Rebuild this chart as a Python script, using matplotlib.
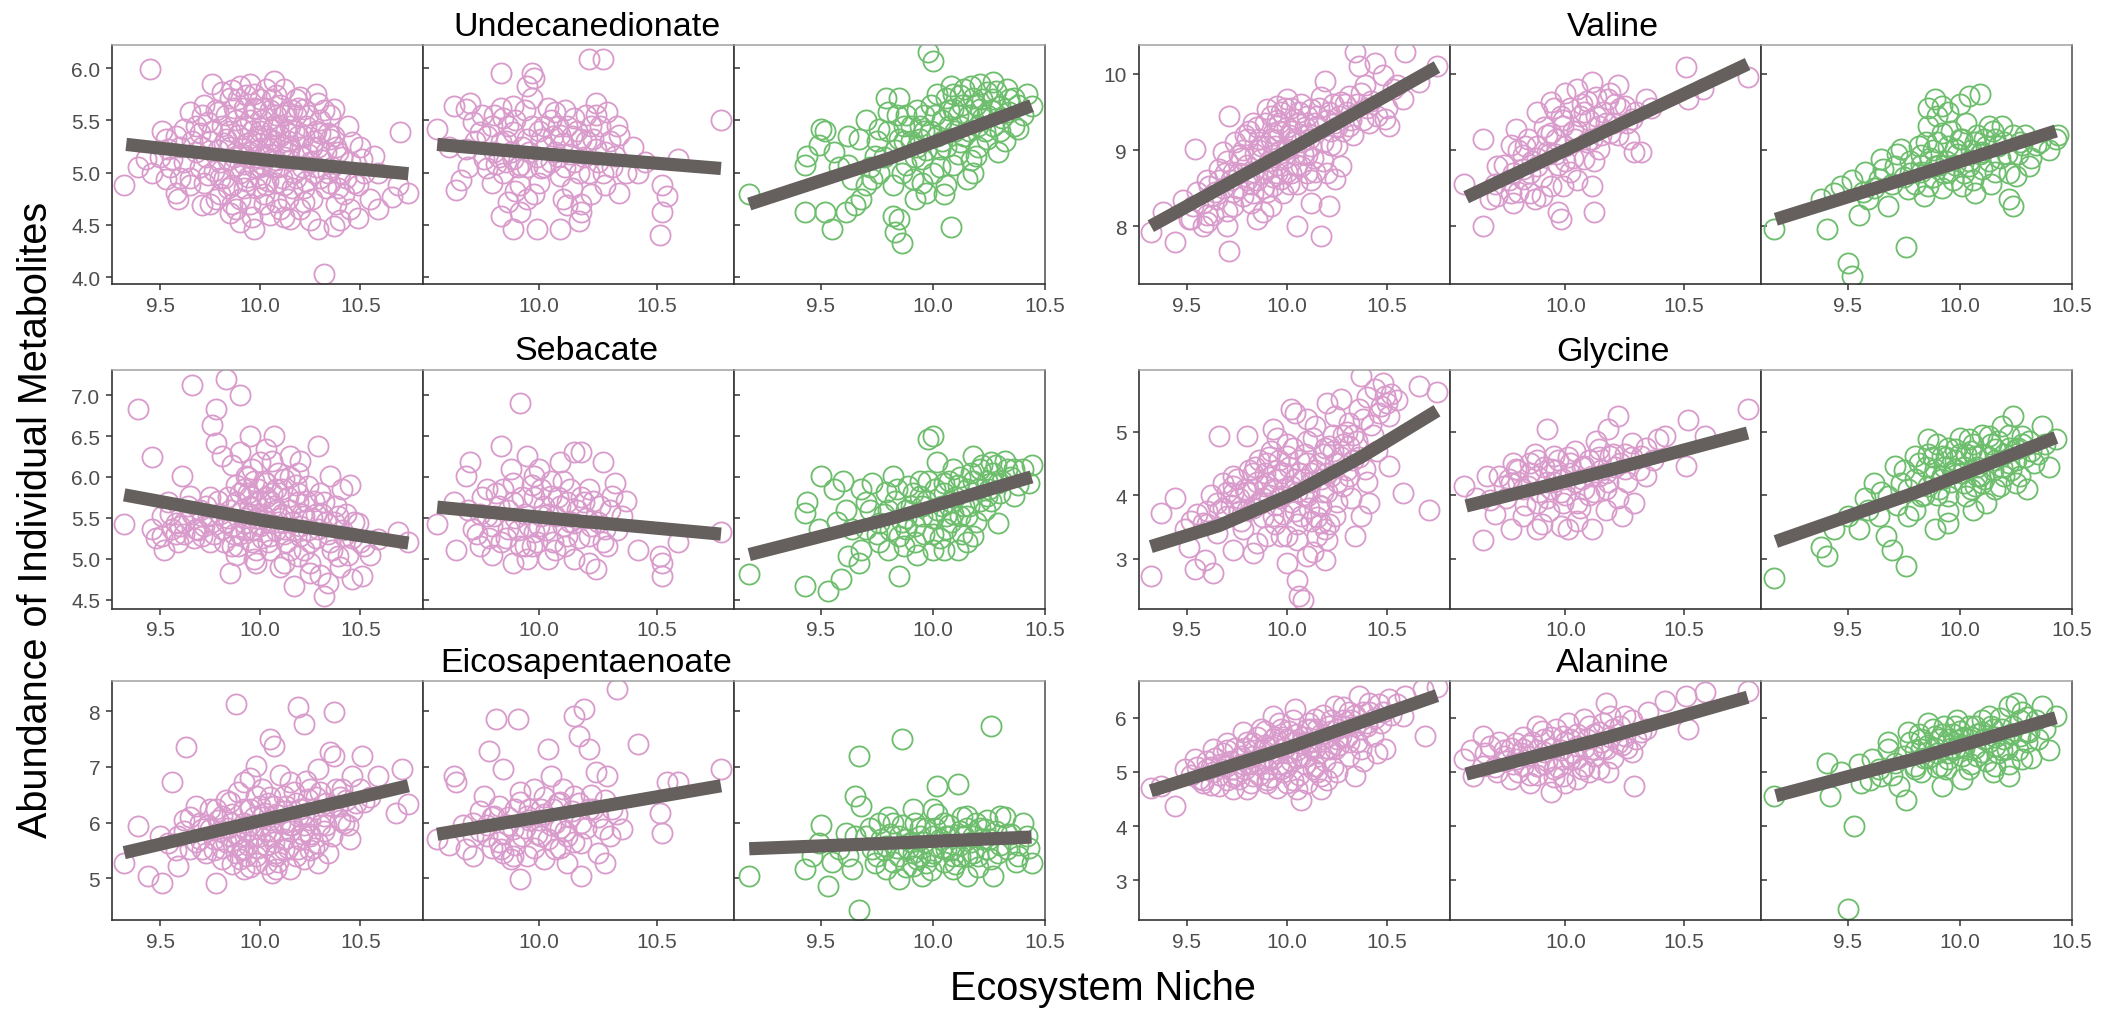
import matplotlib
matplotlib.use("Agg")
import matplotlib.pyplot as plt
import numpy as np

plt.rcParams['font.family'] = ['Liberation Sans', 'DejaVu Sans']

W, H, DPI = 2109, 1012, 100

PINK = '#D99BCB'
GREEN = '#6CBD6C'
FIT = '#655F5D'

metabolites = ['Undecanedionate', 'Valine', 'Sebacate', 'Glycine',
               'Eicosapentaenoate', 'Alanine']
panel_colors = [PINK, PINK, GREEN]

# x axis per panel column (shared by all metabolites)
x_ticks = [[9.5, 10.0, 10.5], [10.0, 10.5], [9.5, 10.0, 10.5]]
x_limits = [(9.259, 10.813), (9.51, 10.825), (9.112, 10.5)]

# y axis per metabolite
y_ticks = {
    'Undecanedionate': [4.0, 4.5, 5.0, 5.5, 6.0],
    'Valine': [8, 9, 10],
    'Sebacate': [4.5, 5.0, 5.5, 6.0, 6.5, 7.0],
    'Glycine': [3, 4, 5],
    'Eicosapentaenoate': [5, 6, 7, 8],
    'Alanine': [3, 4, 5, 6],
}
y_tick_fmt = {
    'Undecanedionate': '{:.1f}', 'Valine': '{:.0f}', 'Sebacate': '{:.1f}',
    'Glycine': '{:.0f}', 'Eicosapentaenoate': '{:.0f}', 'Alanine': '{:.0f}',
}
y_limits = {
    'Undecanedionate': (3.936, 6.22),
    'Valine': (7.24, 10.38),
    'Sebacate': (4.39, 7.314),
    'Glycine': (2.215, 5.98),
    'Eicosapentaenoate': (4.257, 8.545),
    'Alanine': (2.27, 6.685),
}

# ---------------- observations (niche, abundance) ----------------
und_1 = [(9.45,5.99),(9.32,4.88),(9.39,5.05),(9.46,5.00),(9.43,5.13),(9.51,5.40),(9.53,5.32),(9.54,5.23),
         (9.56,5.13),(9.53,4.94),(9.58,4.81),(9.59,4.75),(9.65,5.58),(9.68,5.45),(9.71,5.55),(9.76,5.85),
         (9.81,5.77),(9.86,5.79),(9.90,5.83),(9.85,5.71),(9.93,5.74),(10.07,5.88),(10.03,5.80),(10.08,5.74),
         (10.20,5.72),(10.29,5.67),(10.37,5.61),(10.44,5.45),(10.35,5.32),(10.39,5.20),(10.51,5.13),(10.52,5.00),
         (10.49,4.88),(10.59,4.65),(10.49,4.57),(10.37,4.49),(10.29,4.46),(10.32,4.03),(10.15,4.56),(9.97,4.46),
         (9.90,4.53),(9.85,4.61),(9.78,4.75),(9.71,4.69),(9.65,4.88),(10.70,5.39),(10.74,4.81),(10.66,4.77),
         (10.69,4.88),(10.59,5.00),(10.57,5.16),(10.46,5.29),(10.22,5.61),(10.12,5.55),(9.98,5.61),
         (9.75,5.30),(9.80,5.10),(9.82,4.95),(9.85,5.40),(9.88,5.20),(9.90,5.00),(9.92,4.85),(9.95,5.50),
         (9.96,5.30),(9.98,5.15),(10.00,4.95),(10.00,5.40),(10.02,4.80),(10.04,5.25),(10.05,5.60),(10.06,5.05),
         (10.08,4.90),(10.10,5.35),(10.12,5.15),(10.14,4.75),(10.15,5.45),(10.17,5.00),(10.20,5.25),(10.22,4.85),
         (10.25,5.10),(10.28,5.40),(10.30,4.95),(10.33,5.20),(9.70,5.05),(9.72,4.90),(9.78,5.60),(9.60,5.25),
         (9.62,5.10),(9.65,4.95),(9.68,5.20),(9.58,5.35),(10.40,5.00),(10.42,4.80),(10.45,5.10),(10.38,4.70),
         (9.88,4.65),(9.95,4.70),(10.05,4.60),(10.20,4.65),(10.25,4.55),(9.80,4.80),(9.75,4.70),(9.92,5.62),
         (10.00,5.70),(10.10,5.65),(10.15,5.25),(9.97,5.05),(10.03,5.15),(9.93,5.45),(10.07,5.45),(10.18,5.55),
         (10.27,5.30),(9.83,5.55),(9.87,5.05),(10.10,4.65),(10.30,5.50),(10.35,4.90),
         (9.62,5.42),(9.66,5.30),(9.70,5.38),(9.73,5.15),(9.74,5.48),(9.77,5.02),(9.79,5.22),(9.81,5.45),
         (9.83,5.32),(9.84,5.12),(9.86,4.88),(9.87,5.62),(9.89,5.36),(9.91,5.18),(9.92,5.08),(9.94,5.28),
         (9.94,4.96),(9.96,5.40),(9.97,5.62),(9.99,5.22),(10.01,5.08),(10.01,5.50),(10.03,5.35),(10.04,4.92),
         (10.05,5.18),(10.07,5.30),(10.08,5.55),(10.09,5.05),(10.11,5.25),(10.12,4.88),(10.13,5.40),(10.15,5.12),
         (10.16,5.60),(10.18,4.95),(10.19,5.35),(10.21,5.05),(10.23,5.45),(10.24,5.18),(10.26,4.75),(10.27,5.00),
         (10.29,5.25),(10.31,5.12),(10.33,4.85),(10.34,5.38),(10.36,5.05),(10.38,5.25),(10.41,5.15),(10.43,4.95),
         (10.47,4.90),(10.50,5.25),(10.55,4.75),(9.98,4.85),(9.90,4.75),(10.02,4.70),(10.12,4.58),(9.80,4.95),
         (9.85,5.25),(9.93,5.15),(10.00,5.28),(10.06,5.42),(10.14,5.30),(10.22,5.35),(9.72,5.65),(9.88,5.50),
         (10.18,5.70),(10.35,5.55),(9.60,4.95),(9.55,5.05),(9.50,5.15),(10.45,4.65),(10.40,4.55),(9.95,5.85),
         (10.12,5.80),(10.28,5.75),
         (9.71,5.25),(9.74,4.98),(9.76,5.40),(9.79,5.58),(9.82,5.28),(9.84,4.85),(9.87,5.15),(9.89,5.70),
         (9.91,5.42),(9.93,4.92),(9.95,5.20),(9.97,5.75),(9.99,5.35),(10.00,5.05),(10.02,5.62),(10.03,4.88),
         (10.05,5.32),(10.06,5.70),(10.08,5.12),(10.09,5.45),(10.11,4.95),(10.13,5.58),(10.14,5.20),(10.16,4.85),
         (10.17,5.40),(10.19,5.62),(10.21,5.15),(10.23,4.92),(10.24,5.55),(10.26,5.25),(10.28,5.05),(10.30,5.38),
         (10.32,5.60),(10.34,5.00),(10.37,5.35),(10.39,4.85),(9.96,4.58),(10.08,4.72),(9.86,4.70),(10.22,4.72)]
und_2 = [(9.57,5.42),(9.67,4.93),(9.65,4.83),(9.64,5.64),(9.69,5.61),(9.71,5.67),(9.72,5.48),(9.75,5.39),
         (9.69,5.23),(9.77,5.13),(9.84,5.95),(9.97,5.95),(9.98,5.90),(9.95,5.83),(9.97,5.71),(9.89,5.64),
         (9.85,5.52),(9.84,5.29),(9.89,5.13),(9.85,5.00),(9.92,4.88),(9.87,4.72),(9.84,4.59),(9.89,4.46),
         (9.99,4.46),(10.09,4.46),(10.17,4.54),(10.18,4.62),(10.12,4.69),(9.95,4.75),(10.21,6.09),(10.27,6.09),
         (10.24,5.67),(10.29,5.58),(10.34,5.36),(10.32,5.16),(10.37,5.00),(10.28,4.88),(10.34,4.81),(10.42,5.00),
         (10.59,5.13),(10.52,4.88),(10.54,4.78),(10.52,4.62),(10.51,4.40),(10.77,5.50),(10.07,5.58),(10.12,5.45),
         (10.18,5.32),(10.01,5.32),(10.07,5.20),(10.15,5.10),(10.24,5.23),(10.01,5.04),(10.09,4.97),(10.21,5.00),
         (10.27,5.00),(9.95,5.32),(9.89,5.39),(9.81,5.20),(9.78,5.04),(9.92,5.07),(10.02,5.45),(10.09,5.36),
         (10.15,5.52),(10.22,5.45),
         (9.73,5.30),(9.76,5.55),(9.80,5.45),(9.82,5.08),(9.86,5.30),(9.88,5.20),(9.90,5.50),(9.93,5.25),
         (9.95,5.05),(9.97,5.45),(9.99,5.15),(10.03,5.25),(10.04,5.62),(10.05,5.10),(10.08,5.45),(10.10,5.28),
         (10.11,5.05),(10.13,5.18),(10.16,5.40),(10.19,5.15),(10.20,5.55),(10.23,5.32),(10.25,5.10),(10.26,5.45),
         (10.30,5.30),(10.31,5.05),(10.33,5.45),(9.80,4.90),(9.90,4.82),(10.00,4.90),(10.14,4.85),(10.22,4.80),
         (9.70,5.05),(9.62,5.25),(10.40,5.25),(10.45,5.10),(10.06,5.35),(9.84,5.62),(10.18,4.70),(9.92,4.62),
         (9.78,5.35),(9.81,5.55),(9.83,5.15),(9.87,5.45),(9.91,5.05),(9.94,5.60),(9.96,5.20),(10.00,5.40),
         (10.02,5.05),(10.05,5.50),(10.08,5.15),(10.11,5.60),(10.14,5.35),(10.17,5.00),(10.20,5.30),(10.24,5.55),
         (10.28,5.20),(9.98,4.80),(10.10,4.75),(9.86,5.10)]
und_3 = [(9.18,4.80),(9.43,5.07),(9.44,5.16),(9.49,5.26),(9.52,5.40),(9.56,5.20),(9.50,5.42),(9.43,4.62),
         (9.52,4.62),(9.55,4.46),(9.61,4.62),(9.65,4.69),(9.64,4.94),(9.70,4.88),(9.62,5.07),(9.67,5.32),
         (9.74,5.16),(9.76,5.42),(9.80,5.58),(9.85,5.71),(9.79,5.71),(9.88,5.55),(9.82,4.59),(9.85,4.56),
         (9.86,4.33),(9.83,4.43),(9.98,6.15),(10.00,6.07),(10.08,4.48),(9.76,5.00),(9.82,4.88),(9.88,5.07),
         (9.91,4.94),(9.95,5.13),(10.00,5.00),(10.06,4.88),(9.94,5.32),(10.03,5.23),(10.09,5.07),(10.15,4.94),
         (9.94,5.45),(10.01,5.55),(10.06,5.71),(10.09,5.61),(10.12,5.45),(10.18,5.71),(10.21,5.61),(10.24,5.77),
         (10.27,5.87),(10.17,5.83),(10.08,5.83),(10.12,5.74),(10.30,5.64),(10.36,5.71),(10.44,5.64),(10.38,5.42),
         (10.29,5.20),(10.24,5.32),(10.19,5.16),(10.12,5.29),(10.22,5.52),(10.34,5.58),(10.18,5.00),(9.97,4.81),
         (9.92,4.75),(9.85,5.32),(9.73,4.94),(9.68,4.75),
         (9.72,5.05),(9.75,5.30),(9.78,5.15),(9.80,5.40),(9.83,5.22),(9.86,5.00),(9.87,5.45),(9.90,5.30),
         (9.92,5.15),(9.93,5.60),(9.96,5.40),(9.97,5.22),(9.99,5.65),(10.02,5.35),(10.03,5.05),(10.04,5.50),
         (10.06,5.25),(10.07,5.60),(10.10,5.40),(10.11,5.18),(10.13,5.65),(10.14,5.35),(10.16,5.55),(10.17,5.12),
         (10.20,5.45),(10.22,5.70),(10.23,5.40),(10.26,5.60),(10.27,5.45),(10.28,5.78),(10.31,5.52),(10.33,5.80),
         (10.40,5.55),(10.42,5.75),(10.36,5.45),(9.70,5.50),(9.62,5.35),(9.58,5.05),(9.95,4.90),(10.05,4.80),
         (10.20,5.25),(10.32,5.30),
         (9.84,5.55),(9.87,5.30),(9.90,5.45),(9.93,5.25),(9.96,5.55),(9.99,5.40),(10.02,5.75),(10.04,5.30),
         (10.07,5.45),(10.09,5.75),(10.11,5.55),(10.14,5.80),(10.16,5.40),(10.19,5.65),(10.21,5.85),(10.24,5.55),
         (10.27,5.70),(10.30,5.40),(10.34,5.70),(10.38,5.65)]

val_1 = [(9.32,7.92),(9.38,8.18),(9.44,7.79),(9.71,7.68),(9.51,8.09),(9.54,9.01),(9.58,8.31),(9.61,8.53),
         (9.63,8.14),(9.70,8.00),(9.68,8.97),(9.71,9.45),(9.73,8.71),(9.78,8.40),(9.80,9.14),(9.83,9.36),
         (9.87,8.88),(9.88,8.18),(9.90,9.54),(9.95,9.58),(9.97,8.62),(10.00,9.67),(10.04,9.14),(10.05,8.00),
         (10.07,8.79),(10.12,8.31),(10.17,7.87),(10.19,9.91),(10.15,9.32),(10.24,8.62),(10.27,8.79),(10.22,9.06),
         (10.27,9.63),(10.31,9.32),(10.34,10.29),(10.36,10.11),(10.39,9.85),(10.41,9.36),(10.44,10.15),(10.48,9.98),
         (10.49,9.41),(10.51,9.32),(10.53,9.80),(10.59,10.29),(10.58,9.67),(10.66,9.89),(10.75,10.11),(10.31,9.71),
         (9.98,8.44),(9.92,8.27),(9.85,8.09),(10.10,8.93),(10.00,9.01),(9.93,9.23),(9.83,8.71),(9.76,8.93),
         (10.04,9.41),(10.12,9.54),(10.21,8.27),(9.65,8.36),(9.53,8.27),(9.58,8.00),(9.73,8.27),(9.83,8.44),
         (9.93,8.93),(10.00,8.71),(10.07,9.10),(10.14,8.71),(9.93,8.53),(9.90,9.05),(9.96,9.35),(10.02,9.25),
         (10.09,9.20),(9.86,9.00),(9.80,8.60),(9.95,8.80),(10.05,8.55),(10.18,9.10),(10.25,9.30),(9.66,8.60),
         (9.60,8.15),(9.75,8.50),
         (9.55,8.45),(9.60,8.60),(9.62,8.40),(9.66,8.75),(9.68,8.50),(9.70,8.85),(9.72,8.60),(9.74,9.10),
         (9.76,8.70),(9.78,9.00),(9.80,8.80),(9.81,9.25),(9.84,8.95),(9.85,8.60),(9.86,9.15),(9.88,8.70),
         (9.89,9.35),(9.91,8.85),(9.92,9.45),(9.94,9.05),(9.95,8.70),(9.96,9.25),(9.97,9.50),(9.99,8.90),
         (10.00,9.30),(10.01,8.55),(10.02,9.55),(10.03,9.10),(10.05,8.80),(10.06,9.35),(10.07,9.60),(10.08,8.95),
         (10.10,9.45),(10.11,9.15),(10.13,8.90),(10.14,9.35),(10.16,9.55),(10.18,8.85),(10.20,9.40),(10.22,9.25),
         (10.23,9.60),(10.25,9.05),(10.26,9.45),(10.28,9.25),(10.30,9.50),(10.33,9.20),(10.35,9.60),(10.38,9.40),
         (10.42,9.65),(10.45,9.45),(10.50,9.55),(10.55,9.85),(9.90,8.45),(9.82,8.30),(9.70,8.20),(9.60,8.05),
         (9.52,8.10),(10.12,8.60),(10.20,8.70),(9.48,8.35),
         (9.64,8.45),(9.69,8.70),(9.73,8.45),(9.77,8.90),(9.79,9.20),(9.82,8.55),(9.85,9.30),(9.87,9.05),
         (9.90,8.75),(9.92,9.15),(9.95,9.40),(9.97,9.00),(9.99,9.55),(10.01,9.20),(10.04,8.95),(10.06,9.50),
         (10.09,9.30),(10.12,9.05),(10.15,9.45),(10.17,9.70),(10.21,9.50),(10.24,9.35),(10.29,9.60),(10.32,9.40),
         (10.37,9.75),(10.40,9.55),(9.93,8.65),(10.02,8.70),(9.88,8.50),(10.10,8.70)]
val_2 = [(9.57,8.55),(9.65,8.00),(9.65,9.14),(9.68,8.36),(9.71,8.79),(9.77,9.06),(9.79,9.28),(9.82,8.62),
         (9.87,8.36),(9.88,9.50),(9.94,9.63),(9.92,8.97),(9.97,8.18),(9.98,8.09),(9.99,8.53),(10.04,9.14),
         (10.05,9.80),(10.11,9.89),(10.12,8.18),(10.14,9.32),(10.18,9.67),(10.22,9.85),(10.25,9.58),(10.27,9.14),
         (10.29,8.97),(10.32,8.97),(10.34,9.67),(10.28,9.41),(10.51,10.09),(10.52,9.67),(10.58,9.80),(10.77,9.96),
         (10.08,8.88),(10.02,8.71),(9.88,8.79),(9.82,8.93),(10.19,9.23),(10.14,9.01),(9.99,9.32),(9.94,9.23),
         (10.08,9.50),(9.94,8.53),(9.85,8.44),(9.77,8.44),(9.71,8.40),(10.11,8.53),
         (9.70,8.55),(9.74,8.80),(9.76,8.60),(9.80,9.00),(9.82,8.75),(9.84,9.15),(9.86,8.85),(9.88,9.05),
         (9.90,8.65),(9.91,9.30),(9.93,8.95),(9.96,9.15),(9.97,8.80),(9.99,9.40),(10.00,9.05),(10.02,9.55),
         (10.03,8.90),(10.05,9.25),(10.07,9.60),(10.09,9.10),(10.10,9.40),(10.13,9.70),(10.15,9.20),(10.16,9.50),
         (10.19,9.75),(10.20,9.35),(10.23,9.55),(10.26,9.35),(10.30,9.50),(10.36,9.55),(9.80,8.45),(9.90,8.40),
         (10.05,8.60),(9.78,8.30),(10.12,8.85),(10.00,9.75),(9.95,9.55),(10.22,9.20),
         (9.78,8.70),(9.83,9.05),(9.88,8.90),(9.92,9.20),(9.96,8.95),(9.98,9.45),(10.03,9.25),(10.06,9.45),
         (10.09,9.65),(10.13,9.45),(10.17,9.35),(10.21,9.60),(9.85,8.70),(10.00,8.85),(10.11,9.15)]
val_3 = [(9.17,7.96),(9.41,7.96),(9.38,8.36),(9.44,8.44),(9.50,7.52),(9.52,7.35),(9.55,8.14),(9.59,8.36),
         (9.64,8.62),(9.68,8.27),(9.71,8.79),(9.74,9.01),(9.76,7.72),(9.77,8.49),(9.85,9.10),(9.86,9.32),
         (9.89,9.67),(9.92,9.58),(9.95,9.50),(9.98,9.01),(10.04,9.71),(10.09,9.74),(10.04,8.79),(10.01,8.53),
         (10.07,8.44),(10.13,9.32),(10.16,9.14),(10.19,9.32),(10.22,8.36),(10.24,8.27),(10.28,9.06),(10.31,8.79),
         (10.34,9.06),(10.43,9.14),(9.86,8.53),(9.89,8.79),(9.83,8.71),(9.95,8.71),(9.65,8.88),(9.58,8.71),
         (9.83,8.93),(10.01,9.14),(10.10,8.97),(10.16,8.71),(10.25,8.66),(9.92,9.23),(9.47,8.53),
         (9.62,8.50),(9.66,8.75),(9.70,8.55),(9.72,8.95),(9.75,8.65),(9.78,8.85),(9.80,8.55),(9.82,9.05),
         (9.84,8.40),(9.87,8.90),(9.88,8.65),(9.90,9.10),(9.92,8.50),(9.94,8.85),(9.96,9.25),(9.97,8.60),
         (9.99,8.95),(10.02,8.70),(10.03,9.35),(10.05,9.00),(10.06,8.60),(10.08,9.20),(10.10,8.75),(10.12,9.05),
         (10.14,8.55),(10.15,9.25),(10.18,8.90),(10.20,9.10),(10.22,8.70),(10.24,9.20),(10.26,8.95),(10.29,9.20),
         (10.32,8.90),(10.36,9.10),(10.40,9.00),(10.44,9.20),(9.57,8.45),(9.52,8.60),(9.90,9.45),(9.86,9.55),
         (10.00,9.60),
         (9.78,8.70),(9.83,8.80),(9.88,9.00),(9.91,8.80),(9.95,9.05),(9.98,8.80),(10.00,9.15),(10.04,8.85),
         (10.07,9.10),(10.11,9.15),(10.13,8.85),(10.17,9.05),(10.21,8.95),(10.27,9.10),(9.93,8.70),(10.09,8.95)]

seb_1 = [(9.32,5.42),(9.39,6.83),(9.46,6.24),(9.51,5.52),(9.54,5.69),(9.56,5.36),(9.59,5.20),(9.61,6.01),
         (9.65,5.77),(9.66,7.12),(9.71,5.28),(9.74,5.52),(9.76,6.63),(9.78,6.83),(9.78,6.42),(9.81,6.26),
         (9.83,7.20),(9.86,6.14),(9.85,4.83),(9.90,7.00),(9.92,5.85),(9.95,6.50),(9.93,6.01),(9.97,5.36),
         (9.98,5.11),(10.00,6.18),(10.03,6.34),(10.07,6.50),(10.08,5.60),(10.12,4.95),(10.15,6.26),(10.19,6.05),
         (10.17,4.66),(10.20,5.28),(10.24,5.89),(10.25,4.83),(10.29,6.38),(10.32,4.54),(10.34,4.70),(10.35,6.01),
         (10.39,5.03),(10.41,5.85),(10.46,4.75),(10.51,4.79),(10.49,5.44),(10.52,5.15),(10.59,5.24),(10.69,5.32),
         (10.74,5.20),(10.22,5.52),(10.29,5.36),(10.32,5.69),(10.15,5.11),(9.88,5.69),(9.81,5.36),(10.02,5.52),
         (10.08,5.85),(9.98,5.69),(10.05,5.28),(9.92,5.44),(9.86,5.15),(9.71,5.52),(9.68,5.36),(9.51,5.28),
         (9.58,5.44),(9.46,5.36),(10.19,5.69),(10.12,5.36),(10.25,5.20),(10.42,5.28),(10.39,5.52),(10.03,5.93),
         (9.95,5.77),(10.12,5.97),(10.19,5.03),(9.98,4.95),(9.90,5.30),(9.95,5.55),(10.00,5.40),(10.05,5.70),
         (10.10,5.50),(9.84,5.50),(9.62,5.30),(9.75,5.20),(10.28,5.55),(10.35,5.20),
         (9.55,5.55),(9.58,5.30),(9.62,5.45),(9.64,5.65),(9.67,5.25),(9.70,5.60),(9.72,5.40),(9.75,5.75),
         (9.77,5.30),(9.80,5.55),(9.82,5.20),(9.84,5.75),(9.86,5.40),(9.88,5.90),(9.89,5.15),(9.91,5.60),
         (9.93,5.35),(9.94,5.80),(9.96,5.20),(9.97,5.95),(9.98,5.50),(10.00,5.70),(10.01,5.25),(10.02,5.95),
         (10.04,5.45),(10.05,5.10),(10.06,5.80),(10.08,5.35),(10.09,6.05),(10.11,5.55),(10.13,5.20),(10.14,5.75),
         (10.16,5.45),(10.18,5.90),(10.20,5.40),(10.22,5.10),(10.23,5.70),(10.26,5.50),(10.28,5.25),(10.30,5.80),
         (10.33,5.45),(10.36,5.10),(10.38,5.65),(10.41,5.35),(10.44,5.05),(10.47,5.45),(10.50,5.20),(10.55,5.05),
         (9.97,5.00),(10.10,4.90),(9.88,5.05),(10.25,4.95),(10.30,4.80),(10.40,4.90),(9.96,6.10),(9.90,6.30),
         (10.20,6.20),(10.45,5.90),(9.52,5.10),(9.48,5.25),
         (9.60,5.40),(9.66,5.55),(9.69,5.35),(9.73,5.65),(9.76,5.45),(9.79,5.70),(9.83,5.45),(9.85,5.60),
         (9.87,5.30),(9.90,5.80),(9.92,5.50),(9.95,5.65),(9.96,5.35),(9.99,5.85),(10.01,5.55),(10.03,5.75),
         (10.04,5.20),(10.07,5.65),(10.09,5.45),(10.11,5.85),(10.12,5.30),(10.15,5.60),(10.17,5.35),(10.19,5.80),
         (10.21,5.55),(10.24,5.35),(10.27,5.70),(10.31,5.55),(10.34,5.30),(10.37,5.45),(10.43,5.55),(10.46,5.25),
         (9.94,6.00),(10.06,6.20),(10.15,6.00)]
seb_2 = [(9.57,5.42),(9.65,5.11),(9.64,5.69),(9.69,6.01),(9.71,6.18),(9.72,5.36),(9.78,5.85),(9.84,6.38),
         (9.87,5.36),(9.89,4.95),(9.92,6.91),(9.94,5.15),(9.95,6.26),(9.98,6.01),(10.01,5.52),(10.05,5.77),
         (10.07,5.11),(10.09,6.18),(10.12,5.28),(10.15,6.30),(10.18,6.30),(10.19,5.69),(10.21,4.95),(10.24,4.87),
         (10.27,6.18),(10.28,5.36),(10.31,5.77),(10.32,5.93),(10.35,5.52),(10.42,5.11),(10.51,5.03),(10.52,4.95),
         (10.52,4.79),(10.59,5.20),(10.77,5.32),(9.81,5.52),(9.89,5.69),(9.98,5.32),(10.07,5.52),(10.15,5.44),
         (10.21,5.28),(10.21,5.85),(10.12,5.69),(10.01,5.85),(9.89,5.93),(9.84,5.20),(9.75,5.15),(9.78,5.52),
         (10.29,5.15),(10.04,4.99),
         (9.70,5.60),(9.74,5.30),(9.76,5.75),(9.80,5.40),(9.83,5.65),(9.85,5.85),(9.86,5.25),(9.90,5.50),
         (9.92,5.15),(9.93,5.75),(9.96,5.40),(9.97,5.90),(9.99,5.20),(10.02,5.65),(10.03,5.35),(10.05,5.95),
         (10.08,5.75),(10.10,5.40),(10.11,5.15),(10.13,5.85),(10.16,5.60),(10.17,5.25),(10.20,5.50),(10.23,5.70),
         (10.25,5.45),(10.27,5.20),(10.30,5.60),(10.33,5.35),(10.37,5.70),(9.80,5.05),(9.95,5.00),(10.15,5.00),
         (9.88,6.10),(10.00,6.10),
         (9.75,5.55),(9.79,5.25),(9.82,5.80),(9.87,5.60),(9.91,5.35),(9.94,5.55),(9.98,5.75),(10.00,5.40),
         (10.04,5.55),(10.06,5.20),(10.09,5.65),(10.13,5.45),(10.18,5.75),(10.22,5.40),(10.26,5.65),(9.97,5.15),
         (10.10,5.95)]
seb_3 = [(9.18,4.81),(9.43,4.66),(9.53,4.60),(9.59,4.75),(9.44,5.69),(9.43,5.56),(9.50,6.01),(9.49,5.36),
         (9.56,5.85),(9.61,5.60),(9.64,5.36),(9.67,4.95),(9.68,5.11),(9.70,5.69),(9.73,5.93),(9.76,5.44),
         (9.76,5.20),(9.79,5.81),(9.82,6.01),(9.85,4.79),(9.88,5.60),(9.89,5.89),(9.92,5.20),(9.95,5.52),
         (9.98,6.46),(10.00,6.50),(10.02,6.18),(10.05,5.93),(10.06,5.36),(10.08,5.69),(10.09,6.10),(10.12,5.52),
         (10.15,5.85),(10.18,6.26),(10.21,6.10),(10.23,5.60),(10.26,6.18),(10.29,5.44),(10.29,5.93),(10.33,6.10),
         (10.36,5.77),(10.44,6.14),(10.43,5.93),(10.18,5.28),(10.11,5.11),(10.00,5.11),(9.85,5.28),(9.80,5.11),
         (9.94,5.77),(9.88,5.36),(10.06,5.52),(10.15,5.52),(10.24,5.77),(9.70,5.36),(9.62,5.03),
         (9.78,5.55),(9.81,5.35),(9.83,5.70),(9.86,5.45),(9.87,5.15),(9.90,5.65),(9.92,5.40),(9.94,5.95),
         (9.96,5.30),(9.97,5.70),(10.00,5.50),(10.01,5.85),(10.03,5.25),(10.04,5.65),(10.07,5.95),(10.08,5.45),
         (10.10,5.75),(10.12,6.00),(10.13,5.30),(10.16,5.65),(10.17,6.05),(10.19,5.45),(10.20,5.85),(10.22,6.15),
         (10.24,5.95),(10.26,5.70),(10.27,6.05),(10.30,5.80),(10.32,6.20),(10.35,6.00),(10.38,5.90),(10.40,6.10),
         (9.72,5.60),(9.68,5.85),(9.60,5.95),(9.57,5.45),(9.93,5.05),(10.05,5.10),
         (9.80,5.60),(9.84,5.85),(9.88,5.50),(9.91,5.80),(9.95,5.65),(9.98,5.95),(10.02,5.60),(10.05,5.80),
         (10.09,5.55),(10.11,5.90),(10.14,5.65),(10.18,5.95),(10.21,5.70),(10.25,5.85),(10.28,6.15),(10.31,5.95),
         (10.36,6.10),(9.75,5.30),(10.00,5.30),(10.15,5.20)]

gly_1 = [(9.32,2.72),(9.37,3.72),(9.44,3.96),(9.49,3.46),(9.51,3.19),(9.54,2.83),(9.59,2.98),(9.63,2.77),
         (9.58,3.56),(9.65,3.88),(9.66,4.93),(9.68,4.19),(9.73,3.14),(9.73,4.30),(9.80,4.93),(9.83,3.09),
         (9.78,3.46),(9.87,3.88),(9.90,4.51),(9.93,5.04),(9.97,3.35),(10.00,2.93),(10.02,5.35),(10.04,5.30),
         (10.05,2.67),(10.06,2.41),(10.08,2.35),(10.10,3.04),(10.14,5.09),(10.17,3.56),(10.19,3.46),(10.19,2.98),
         (10.24,5.25),(10.27,5.51),(10.31,5.14),(10.34,3.35),(10.36,5.35),(10.37,5.88),(10.37,3.67),(10.39,4.41),
         (10.41,3.88),(10.44,5.67),(10.48,5.77),(10.49,5.56),(10.51,5.25),(10.51,4.46),(10.58,4.04),(10.66,5.72),
         (10.71,3.77),(10.75,5.62),(10.21,4.77),(10.10,4.51),(10.04,4.25),(9.97,3.98),(9.90,4.19),(9.83,4.35),
         (10.00,4.62),(10.10,3.98),(10.17,4.25),(10.24,4.51),(10.31,4.77),(10.17,3.83),(10.07,3.67),(9.93,3.67),
         (9.80,3.77),(9.70,3.67),(10.24,3.67),(10.31,4.30),(9.83,4.09),(9.73,4.04),(10.15,3.35),(10.00,3.35),
         (9.95,4.40),(10.05,4.05),(10.12,4.35),(9.88,3.95),(10.20,4.05),(10.28,4.95),(9.60,3.75),(9.76,3.95),
         (9.55,3.70),(9.60,3.55),(9.62,4.00),(9.66,3.75),(9.70,4.05),(9.72,3.85),(9.75,4.25),(9.77,3.60),
         (9.79,4.10),(9.81,4.40),(9.83,3.80),(9.85,4.20),(9.86,4.55),(9.88,3.65),(9.89,4.35),(9.91,4.00),
         (9.92,4.70),(9.94,3.85),(9.95,4.25),(9.96,4.55),(9.98,3.70),(9.99,4.10),(10.01,4.45),(10.02,3.90),
         (10.03,4.75),(10.05,3.55),(10.06,4.35),(10.08,4.00),(10.09,4.65),(10.11,3.80),(10.12,4.20),(10.13,4.90),
         (10.15,3.65),(10.16,4.50),(10.18,4.05),(10.19,4.75),(10.21,3.55),(10.22,4.30),(10.23,4.95),(10.25,3.90),
         (10.27,4.60),(10.28,4.15),(10.30,5.00),(10.32,3.95),(10.33,4.55),(10.35,4.85),(10.40,4.20),(10.42,5.10),
         (10.45,4.70),(10.47,5.40),(10.52,5.60),(10.55,5.50),(10.40,5.55),(10.20,5.45),(10.10,5.20),(9.95,4.90),
         (10.05,3.30),(10.13,3.10),(9.90,3.35),(9.85,3.25),(10.20,3.30),(9.65,3.40),(9.52,3.60),
         (9.68,3.80),(9.73,4.15),(9.76,3.75),(9.80,4.05),(9.84,4.45),(9.86,3.90),(9.89,4.15),(9.91,4.60),
         (9.93,4.10),(9.96,3.95),(9.98,4.35),(10.00,4.80),(10.02,4.15),(10.04,3.75),(10.06,4.55),(10.08,4.25),
         (10.10,4.85),(10.11,4.05),(10.14,4.40),(10.16,3.85),(10.18,4.65),(10.20,4.35),(10.23,4.70),(10.25,4.20),
         (10.28,4.80),(10.30,4.40),(10.33,4.95),(10.36,4.60),(10.38,5.20),(10.43,4.95),(10.46,5.30),(10.50,5.45),
         (9.94,3.55),(10.12,3.60)]
gly_2 = [(9.57,4.14),(9.65,3.30),(9.67,4.30),(9.68,3.93),(9.74,4.14),(9.77,3.46),(9.79,4.41),(9.82,3.67),
         (9.85,4.51),(9.88,3.46),(9.92,5.04),(9.94,4.09),(9.95,4.62),(9.98,3.51),(9.99,4.25),(10.01,3.46),
         (10.05,3.88),(10.08,4.46),(10.11,3.46),(10.14,4.72),(10.17,4.09),(10.18,5.04),(10.22,5.25),(10.24,3.67),
         (10.25,4.41),(10.28,4.83),(10.29,3.88),(10.32,4.62),(10.34,4.30),(10.39,4.88),(10.42,4.93),(10.51,4.46),
         (10.52,5.19),(10.59,4.93),(10.77,5.35),(9.82,4.09),(9.88,4.30),(9.99,3.88),(10.08,4.09),(10.14,4.30),
         (10.19,4.62),(9.94,4.41),(10.02,4.51),(9.77,4.19),(9.88,3.88),(10.17,3.77),
         (9.72,4.30),(9.75,3.95),(9.78,4.50),(9.80,4.20),(9.83,3.85),(9.85,4.35),(9.87,4.65),(9.89,4.05),
         (9.91,4.45),(9.93,3.75),(9.95,4.20),(9.97,4.55),(10.00,4.00),(10.02,4.35),(10.04,4.70),(10.06,3.80),
         (10.07,4.25),(10.10,4.55),(10.12,4.05),(10.13,4.85),(10.15,4.40),(10.18,4.20),(10.20,4.65),(10.22,3.95),
         (10.23,4.50),(10.26,4.20),(10.28,4.60),(10.31,4.40),(10.34,4.75),(10.37,4.55),(9.70,3.70),(9.90,3.55),
         (10.05,3.60),(9.62,3.95),
         (9.76,4.25),(9.80,4.40),(9.84,4.15),(9.88,4.55),(9.92,4.20),(9.96,4.40),(9.98,4.05),(10.01,4.60),
         (10.04,4.20),(10.07,4.45),(10.11,4.30),(10.14,4.60),(10.17,4.35),(10.21,4.45),(10.25,4.65),(9.92,3.95),
         (10.10,4.00)]
gly_3 = [(9.17,2.69),(9.38,3.19),(9.41,3.04),(9.44,3.46),(9.50,3.67),(9.55,3.46),(9.59,3.77),(9.62,4.19),
         (9.67,3.35),(9.70,3.14),(9.71,4.46),(9.76,2.88),(9.77,3.67),(9.80,4.62),(9.83,3.98),(9.86,4.88),
         (9.89,3.46),(9.92,4.30),(9.95,3.56),(9.98,4.72),(10.03,3.98),(10.04,4.88),(10.09,4.30),(10.13,4.93),
         (10.16,4.09),(10.19,5.09),(10.22,4.51),(10.24,5.25),(10.25,4.19),(10.28,4.93),(10.30,4.09),(10.37,5.09),
         (10.43,4.88),(10.12,3.88),(10.06,3.77),(9.95,3.98),(9.89,4.41),(9.86,4.14),(9.98,4.41),(10.07,4.62),
         (10.16,4.72),(10.20,4.30),(10.10,4.19),(10.02,4.19),(9.92,4.62),(9.74,4.19),(9.68,3.98),(9.77,4.09),
         (9.80,3.77),(9.64,3.67),(10.25,4.72),(10.33,4.51),
         (9.80,4.25),(9.82,4.50),(9.84,4.00),(9.86,4.65),(9.88,4.30),(9.90,4.80),(9.91,4.10),(9.93,4.45),
         (9.95,4.75),(9.96,4.20),(9.98,4.55),(10.00,4.90),(10.01,4.35),(10.03,4.65),(10.05,4.10),(10.06,4.80),
         (10.08,4.45),(10.10,4.95),(10.11,4.25),(10.13,4.60),(10.15,4.40),(10.17,4.85),(10.18,4.15),(10.20,4.65),
         (10.22,4.95),(10.23,4.40),(10.26,4.75),(10.27,4.30),(10.29,4.60),(10.31,4.85),(10.35,4.65),(10.38,4.80),
         (9.75,4.40),(9.72,3.85),(9.65,4.05),(9.58,3.95),(10.40,4.45),(9.95,3.75),
         (9.85,4.45),(9.88,4.60),(9.92,4.25),(9.94,4.60),(9.97,4.35),(10.00,4.65),(10.02,4.45),(10.05,4.70),
         (10.08,4.30),(10.10,4.65),(10.14,4.80),(10.16,4.55),(10.19,4.45),(10.22,4.75),(10.25,4.55),(10.28,4.80),
         (10.32,4.70),(9.90,4.00),(10.07,4.15)]

eic_1 = [(9.32,5.28),(9.39,5.94),(9.44,5.04),(9.51,4.92),(9.56,6.72),(9.59,5.22),(9.63,7.35),(9.59,5.76),
         (9.68,6.30),(9.71,5.52),(9.78,4.92),(9.81,6.12),(9.88,8.13),(9.92,6.72),(9.93,5.40),(9.98,7.02),
         (10.00,5.76),(10.05,7.50),(10.07,7.38),(10.07,6.30),(10.08,5.16),(10.12,5.52),(10.15,6.72),(10.19,8.07),
         (10.22,7.77),(10.24,6.42),(10.25,5.76),(10.29,6.96),(10.32,6.12),(10.34,5.46),(10.35,7.26),(10.37,7.98),
         (10.37,7.20),(10.41,6.60),(10.42,6.00),(10.46,6.84),(10.51,7.20),(10.52,6.36),(10.59,6.84),(10.68,6.18),
         (10.71,6.96),(10.74,6.33),(9.65,5.52),(9.75,5.88),(9.85,5.76),(9.92,6.00),(10.02,6.18),(10.12,6.00),
         (10.19,6.12),(10.05,5.76),(10.19,5.52),(10.29,5.64),(9.92,5.52),(9.81,5.34),(9.98,5.28),(10.08,5.40),
         (10.29,5.28),(9.71,5.88),(9.54,5.64),(9.85,6.36),(10.12,6.48),(9.98,6.48),(10.25,6.60),(10.39,6.30),
         (9.92,5.16),(10.15,5.16),(9.78,6.24),(9.95,5.95),(10.05,6.05),(10.15,5.85),(9.88,5.60),(10.00,6.30),
         (10.22,5.95),(10.32,5.85),(9.62,6.05),(10.45,5.70),
         (9.62,5.85),(9.65,6.10),(9.68,5.65),(9.70,6.00),(9.73,5.45),(9.75,6.25),(9.77,5.70),(9.79,6.05),
         (9.81,5.55),(9.83,6.40),(9.84,5.90),(9.86,6.15),(9.88,5.45),(9.89,6.55),(9.90,5.75),(9.92,6.25),
         (9.94,5.60),(9.95,6.80),(9.97,6.10),(9.98,5.40),(10.00,5.95),(10.01,6.60),(10.03,5.60),(10.04,6.35),
         (10.06,5.85),(10.08,6.15),(10.09,5.30),(10.10,6.85),(10.12,5.70),(10.13,6.30),(10.15,5.95),(10.17,6.55),
         (10.18,5.40),(10.20,6.25),(10.21,5.80),(10.23,6.75),(10.25,6.05),(10.27,5.55),(10.28,6.45),(10.30,5.95),
         (10.33,6.35),(10.36,5.75),(10.38,6.60),(10.40,6.05),(10.43,6.40),(10.46,6.20),(10.50,6.60),(10.55,6.45),
         (10.03,5.25),(9.95,5.20),(10.22,5.35),(10.06,5.10),(9.86,5.25),(9.58,5.50),(9.50,5.75),
         (9.70,5.70),(9.74,5.95),(9.77,5.50),(9.80,5.85),(9.83,5.65),(9.86,6.00),(9.88,5.80),(9.91,5.50),
         (9.93,5.85),(9.95,6.25),(9.97,5.75),(9.99,5.55),(10.01,6.10),(10.03,5.85),(10.05,6.45),(10.07,5.65),
         (10.10,6.00),(10.12,6.20),(10.14,5.55),(10.16,5.95),(10.18,6.35),(10.20,5.70),(10.22,6.15),(10.25,5.80),
         (10.27,6.25),(10.30,6.55),(10.33,5.95),(10.36,6.30),(10.40,6.45),(10.44,5.95),(10.48,6.35),(10.08,5.45),
         (9.90,5.35),(10.25,5.50)]
eic_2 = [(9.57,5.70),(9.64,6.84),(9.65,6.72),(9.69,5.52),(9.72,6.00),(9.77,6.48),(9.79,7.29),(9.82,7.86),
         (9.91,7.86),(9.85,6.96),(9.89,5.40),(9.92,4.98),(9.95,6.12),(9.98,6.60),(10.01,5.76),(10.04,7.32),
         (10.05,6.84),(10.09,6.36),(10.12,5.28),(10.15,7.92),(10.17,7.56),(10.18,5.04),(10.19,8.04),(10.21,7.32),
         (10.24,6.90),(10.27,5.88),(10.28,5.28),(10.29,6.84),(10.31,6.24),(10.33,8.40),(10.35,5.88),(10.42,7.41),
         (10.51,6.18),(10.52,5.82),(10.54,6.72),(10.59,6.72),(10.77,6.96),(9.78,5.76),(9.84,5.52),(9.89,5.88),
         (10.01,6.24),(10.07,6.00),(10.12,5.76),(10.18,5.64),(10.21,6.24),(10.07,5.52),(9.95,5.40),(9.72,5.40),
         (9.81,6.12),(10.15,6.48),(9.92,6.36),
         (9.72,5.75),(9.75,6.20),(9.78,5.95),(9.80,5.55),(9.83,6.30),(9.85,5.80),(9.87,6.10),(9.90,5.60),
         (9.92,6.55),(9.94,5.90),(9.96,6.25),(9.98,5.55),(10.00,6.05),(10.02,6.45),(10.04,5.70),(10.06,6.25),
         (10.09,5.90),(10.10,6.60),(10.13,6.10),(10.15,5.65),(10.17,6.35),(10.20,5.90),(10.22,6.50),(10.25,6.10),
         (10.28,6.40),(10.30,5.75),(10.33,6.15),(9.68,5.95),(9.62,5.60),(9.88,5.35),(10.02,5.35),(10.25,5.45),
         (9.75,5.85),(9.80,6.10),(9.83,5.65),(9.87,5.95),(9.90,6.25),(9.93,5.75),(9.96,6.05),(9.99,5.80),
         (10.02,6.15),(10.05,5.95),(10.08,6.35),(10.11,5.85),(10.14,6.20),(10.18,6.00),(10.23,6.25),(9.85,5.45),
         (10.09,5.55)]
eic_3 = [(9.18,5.04),(9.43,5.16),(9.46,5.40),(9.49,5.64),(9.53,4.86),(9.58,5.52),(9.61,5.82),(9.64,5.16),
         (9.67,7.20),(9.65,6.48),(9.68,6.30),(9.67,4.44),(9.70,5.76),(9.74,5.28),(9.79,5.58),(9.82,6.00),
         (9.85,4.98),(9.86,7.50),(9.89,5.52),(9.91,6.24),(9.94,5.76),(9.97,5.28),(10.02,6.66),(10.05,6.00),
         (10.06,5.52),(10.09,5.16),(10.11,6.69),(10.14,5.76),(10.15,6.12),(10.20,5.40),(10.23,5.88),(10.26,7.74),
         (10.27,5.04),(10.30,6.12),(10.33,5.52),(10.38,5.40),(10.42,5.76),(10.44,5.28),(9.76,6.00),(9.85,5.76),
         (9.94,5.40),(10.00,5.76),(10.00,6.24),(10.18,5.76),(10.12,5.40),(9.91,5.22),(9.79,5.16),(9.73,5.52),
         (10.24,5.52),(10.06,5.76),
         (9.72,5.90),(9.75,5.40),(9.77,5.70),(9.80,6.10),(9.82,5.30),(9.84,5.55),(9.86,5.95),(9.88,5.20),
         (9.90,5.65),(9.92,6.00),(9.93,5.35),(9.95,5.55),(9.97,5.90),(9.99,5.15),(10.00,5.45),(10.02,6.15),
         (10.03,5.70),(10.05,5.30),(10.07,5.95),(10.08,5.50),(10.10,5.25),(10.12,5.85),(10.13,6.10),(10.15,5.40),
         (10.17,5.65),(10.19,6.00),(10.20,5.20),(10.22,5.70),(10.24,6.05),(10.26,5.35),(10.28,5.85),(10.30,5.60),
         (10.32,6.10),(10.35,5.80),(10.37,5.30),(10.40,6.00),(10.43,5.55),(9.65,5.75),(9.62,5.40),(9.55,5.30),
         (9.50,5.95),(9.95,5.05),(10.15,5.05),
         (9.78,5.50),(9.81,5.80),(9.85,5.40),(9.88,5.70),(9.91,5.45),(9.94,5.90),(9.96,5.65),(9.99,5.40),
         (10.01,5.90),(10.04,5.55),(10.07,5.75),(10.09,5.40),(10.12,5.60),(10.15,5.90),(10.18,5.45),(10.21,5.90),
         (10.25,5.70),(10.29,5.45),(10.33,5.80),(10.38,5.60)]

ala_1 = [(9.32,4.71),(9.37,4.74),(9.44,4.37),(9.49,5.05),(9.54,5.23),(9.58,4.80),(9.63,5.42),(9.66,4.74),
         (9.70,5.54),(9.73,5.05),(9.78,5.73),(9.80,4.68),(9.83,5.30),(9.87,5.79),(9.90,4.80),(9.93,6.04),
         (9.97,5.05),(10.00,5.60),(10.04,6.16),(10.05,4.68),(10.07,4.49),(10.10,5.30),(10.14,5.98),(10.17,4.68),
         (10.21,5.42),(10.24,6.22),(10.27,5.67),(10.31,6.10),(10.34,4.93),(10.36,6.41),(10.37,5.42),(10.41,6.28),
         (10.43,5.67),(10.48,6.10),(10.49,5.42),(10.51,6.35),(10.58,6.04),(10.59,6.41),(10.68,6.53),(10.69,5.67),
         (10.75,6.56),(9.70,5.11),(9.83,4.93),(9.93,5.23),(10.00,5.11),(10.07,5.54),(10.14,5.11),(10.21,5.85),
         (10.10,5.79),(9.93,5.60),(9.83,5.54),(9.63,4.99),(9.56,4.86),(9.76,4.86),(10.17,4.93),(10.31,5.30),
         (10.34,5.85),(10.24,5.42),(9.73,4.68),(10.00,4.80),(9.88,5.40),(9.97,5.80),(10.05,5.25),(10.18,5.60),
         (10.28,5.95),(9.60,5.20),(9.78,5.15),(10.12,5.45),(9.90,5.05),(10.40,5.90),
         (9.52,4.95),(9.55,5.10),(9.58,4.85),(9.60,5.05),(9.62,4.75),(9.64,5.25),(9.66,4.95),(9.68,5.35),
         (9.70,4.85),(9.72,5.20),(9.74,5.45),(9.75,4.95),(9.77,5.30),(9.79,5.05),(9.80,5.55),(9.82,4.80),
         (9.84,5.20),(9.85,5.65),(9.86,4.95),(9.88,5.25),(9.89,5.75),(9.91,5.45),(9.92,4.90),(9.94,5.65),
         (9.95,5.35),(9.96,5.90),(9.98,5.00),(9.99,5.45),(10.01,5.75),(10.02,5.20),(10.03,5.95),(10.05,5.40),
         (10.06,4.95),(10.08,5.65),(10.09,5.15),(10.11,5.90),(10.12,5.55),(10.13,5.05),(10.15,5.80),(10.16,5.35),
         (10.18,6.05),(10.19,5.20),(10.20,5.65),(10.22,5.95),(10.23,5.10),(10.25,5.80),(10.26,5.50),(10.28,6.20),
         (10.30,5.65),(10.32,5.95),(10.35,5.55),(10.38,6.10),(10.40,5.85),(10.44,6.00),(10.46,6.25),(10.52,6.05),
         (10.55,6.25),(10.10,4.80),(9.95,4.70),(10.25,5.00),(10.20,4.85),(10.38,5.20),(10.45,5.35),
         (9.62,5.10),(9.67,5.15),(9.70,5.40),(9.73,4.90),(9.76,5.25),(9.79,5.45),(9.81,5.15),(9.84,5.40),
         (9.86,5.15),(9.89,5.50),(9.91,5.25),(9.94,5.50),(9.96,5.15),(9.98,5.65),(10.00,5.35),(10.03,5.55),
         (10.05,5.70),(10.07,5.30),(10.10,5.55),(10.12,5.80),(10.14,5.45),(10.17,5.70),(10.20,5.45),(10.22,5.75),
         (10.25,5.60),(10.28,5.85),(10.31,5.55),(10.34,6.05),(10.37,5.80),(10.41,6.10),(10.47,5.90),(9.90,4.85),
         (10.03,4.85),(10.15,5.00)]
ala_2 = [(9.57,5.23),(9.61,4.93),(9.65,5.67),(9.68,5.48),(9.71,4.99),(9.74,5.30),(9.77,4.86),(9.79,5.54),
         (9.82,5.11),(9.85,4.80),(9.88,5.85),(9.91,5.36),(9.94,4.62),(9.95,5.05),(9.99,5.67),(10.02,5.23),
         (10.05,4.86),(10.08,5.98),(10.11,5.42),(10.14,5.73),(10.17,6.28),(10.18,4.99),(10.19,6.04),(10.22,5.54),
         (10.25,6.04),(10.28,5.36),(10.29,4.74),(10.32,5.73),(10.35,6.10),(10.42,6.31),(10.51,6.41),(10.52,5.79),
         (10.59,6.47),(10.77,6.50),(9.82,5.42),(9.91,5.60),(9.99,5.23),(10.08,5.11),(10.17,5.42),(10.14,5.05),
         (10.05,5.48),(9.88,5.11),(9.79,5.23),(10.25,5.67),(9.99,4.93),(9.65,5.11),
         (9.66,5.35),(9.70,5.10),(9.72,5.55),(9.75,5.20),(9.77,5.45),(9.80,5.00),(9.82,5.65),(9.84,5.30),
         (9.86,5.55),(9.88,4.95),(9.90,5.75),(9.92,5.20),(9.94,5.45),(9.96,5.80),(9.97,5.10),(10.00,5.55),
         (10.01,5.90),(10.03,5.35),(10.05,5.70),(10.07,5.05),(10.09,5.60),(10.10,5.85),(10.12,5.30),(10.15,5.55),
         (10.16,5.90),(10.19,5.65),(10.20,5.25),(10.23,5.85),(10.26,5.45),(10.28,5.95),(10.30,5.60),(10.34,5.80),
         (9.60,5.40),(9.85,4.95),(10.00,4.80),
         (9.74,5.40),(9.78,5.15),(9.81,5.35),(9.84,5.50),(9.88,5.40),(9.91,5.15),(9.94,5.65),(9.98,5.40),
         (10.02,5.60),(10.05,5.25),(10.08,5.45),(10.12,5.70),(10.16,5.45),(10.20,5.80),(10.24,5.50),(9.95,4.90),
         (10.10,5.00)]
ala_3 = [(9.17,4.56),(9.41,5.17),(9.42,4.56),(9.47,4.99),(9.53,4.00),(9.50,2.46),(9.56,4.80),(9.61,5.23),
         (9.65,4.93),(9.68,5.42),(9.73,4.74),(9.76,4.49),(9.77,5.73),(9.80,5.11),(9.83,5.42),(9.86,5.91),
         (9.89,5.67),(9.92,4.74),(9.95,5.23),(9.98,5.85),(10.01,5.48),(10.04,5.05),(10.07,5.85),(10.10,5.36),
         (10.13,6.04),(10.15,4.99),(10.19,5.79),(10.22,4.93),(10.22,6.22),(10.25,6.28),(10.28,5.23),(10.30,6.01),
         (10.37,6.22),(10.43,6.04),(10.27,5.67),(10.16,5.48),(10.04,5.60),(9.95,5.60),(9.83,4.99),(9.71,5.17),
         (9.98,5.42),(10.10,5.73),(10.21,5.42),(10.31,5.73),(9.92,5.11),(10.16,5.11),(10.01,4.86),(9.64,5.05),
         (9.75,5.30),(9.78,5.55),(9.80,5.05),(9.82,5.70),(9.84,5.25),(9.86,5.50),(9.88,5.80),(9.90,5.35),
         (9.91,5.60),(9.93,5.85),(9.94,5.05),(9.96,5.45),(9.97,5.70),(9.99,5.95),(10.01,5.30),(10.02,5.65),
         (10.04,5.85),(10.05,5.15),(10.07,5.45),(10.08,5.70),(10.10,5.95),(10.12,5.20),(10.13,5.55),(10.15,5.80),
         (10.17,5.35),(10.18,6.00),(10.20,5.60),(10.22,5.15),(10.24,5.85),(10.26,5.40),(10.28,6.10),(10.30,5.55),
         (10.32,5.25),(10.34,5.95),(10.38,5.80),(10.40,5.40),(9.70,4.95),(9.68,5.55),(9.60,4.85),(9.55,5.15),
         (9.80,5.40),(9.83,5.60),(9.86,5.25),(9.89,5.45),(9.92,5.70),(9.95,5.35),(9.97,5.55),(10.00,5.75),
         (10.02,5.45),(10.05,5.65),(10.08,5.30),(10.11,5.60),(10.14,5.85),(10.16,5.65),(10.19,5.40),(10.23,5.70),
         (10.27,5.95),(10.30,5.75),(10.35,5.60),(9.90,5.10)]

# ---------------- fitted trend curves (niche, abundance) ----------------
und_fit_1 = [(9.33,5.27),(10.03,5.12),(10.74,4.99)]
und_fit_2 = [(9.57,5.27),(10.17,5.15),(10.77,5.04)]
und_fit_3 = [(9.18,4.70),(9.81,5.14),(10.44,5.64)]
val_fit_1 = [(9.32,8.00),(10.04,9.04),(10.75,10.09)]
val_fit_2 = [(9.58,8.38),(10.17,9.25),(10.77,10.13)]
val_fit_3 = [(9.18,8.09),(9.81,8.67),(10.43,9.25)]
seb_fit_1 = [(9.32,5.78),(10.03,5.46),(10.74,5.19)]
seb_fit_2 = [(9.57,5.63),(10.17,5.46),(10.77,5.30)]
seb_fit_3 = [(9.18,5.05),(9.81,5.49),(10.44,6.00)]
gly_fit_1 = [(9.32,3.19),(9.66,3.52),(10.03,4.02),(10.37,4.60),(10.75,5.33)]
gly_fit_2 = [(9.58,3.83),(10.17,4.38),(10.77,4.98)]
gly_fit_3 = [(9.18,3.27),(9.81,4.05),(10.43,4.91)]
eic_fit_1 = [(9.32,5.46),(10.03,6.06),(10.74,6.66)]
eic_fit_2 = [(9.57,5.79),(10.17,6.22),(10.77,6.66)]
eic_fit_3 = [(9.18,5.53),(9.81,5.63),(10.44,5.74)]
ala_fit_1 = [(9.32,4.65),(10.00,5.44),(10.75,6.41)]
ala_fit_2 = [(9.58,4.96),(10.17,5.63),(10.77,6.38)]
ala_fit_3 = [(9.18,4.56),(9.81,5.25),(10.43,6.00)]

points = {
    'Undecanedionate': [und_1, und_2, und_3],
    'Valine': [val_1, val_2, val_3],
    'Sebacate': [seb_1, seb_2, seb_3],
    'Glycine': [gly_1, gly_2, gly_3],
    'Eicosapentaenoate': [eic_1, eic_2, eic_3],
    'Alanine': [ala_1, ala_2, ala_3],
}
fits = {
    'Undecanedionate': [und_fit_1, und_fit_2, und_fit_3],
    'Valine': [val_fit_1, val_fit_2, val_fit_3],
    'Sebacate': [seb_fit_1, seb_fit_2, seb_fit_3],
    'Glycine': [gly_fit_1, gly_fit_2, gly_fit_3],
    'Eicosapentaenoate': [eic_fit_1, eic_fit_2, eic_fit_3],
    'Alanine': [ala_fit_1, ala_fit_2, ala_fit_3],
}

# ---------------- layout (pixels) ----------------
group_left = [112.0, 1138.6]
panel_w = 311.0
row_top = [46.0, 370.5, 681.7]
panel_h = 239.0

fig = plt.figure(figsize=(W / DPI, H / DPI), dpi=DPI)
fig.patch.set_facecolor('white')

DARK = '#333333'
TICK_LABEL = '#4D4D4D'

for m, name in enumerate(metabolites):
    row, grp = divmod(m, 2)
    for p in range(3):
        left = group_left[grp] + p * panel_w
        ax = fig.add_axes([left / W, 1 - (row_top[row] + panel_h) / H,
                           panel_w / W, panel_h / H])
        pts = np.array(points[name][p])
        ax.plot(pts[:, 0], pts[:, 1], linestyle='none', marker='o', ms=14.5,
                mfc='none', mec=panel_colors[p], mew=1.3, zorder=2)
        fit = np.array(fits[name][p])
        ax.plot(fit[:, 0], fit[:, 1], color=FIT, lw=9.5,
                solid_capstyle='butt', solid_joinstyle='round', zorder=3)

        ax.set_xlim(*x_limits[p])
        ax.set_ylim(*y_limits[name])
        ax.set_xticks(x_ticks[p])
        ax.set_xticklabels(['{:.1f}'.format(v) for v in x_ticks[p]])
        ax.set_yticks(y_ticks[name])
        if p == 0:
            ax.set_yticklabels([y_tick_fmt[name].format(v) for v in y_ticks[name]])
            ax.tick_params(axis='y', direction='out', length=4.5, width=1.1,
                           color=DARK, labelsize=15, labelcolor=TICK_LABEL, pad=4)
        else:
            ax.tick_params(axis='y', direction='in', length=4.5, width=1.1,
                           color=DARK, labelleft=False)
        ax.tick_params(axis='x', direction='out', length=4.5, width=1.1,
                       color=DARK, labelsize=15, labelcolor=TICK_LABEL, pad=4)

        for s in ('left', 'bottom'):
            ax.spines[s].set_color(DARK)
            ax.spines[s].set_linewidth(1.2)
        ax.spines['top'].set_color('#A0A0A0')
        ax.spines['top'].set_linewidth(1.1)
        ax.spines['right'].set_color('#5A5A5A')
        ax.spines['right'].set_linewidth(1.2)
        ax.set_facecolor('white')

    # metabolite title over its three panels
    cx = group_left[grp] + 1.5 * panel_w + 8
    fig.text(cx / W, 1 - (row_top[row] - 10) / H, name, ha='center',
             va='baseline', fontsize=24.5, color='black')

fig.text(36 / W, 1 - 520 / H, 'Abundance of Individual Metabolites',
         rotation=90, ha='center', va='center', fontsize=28.5, color='black')
fig.text(1103 / W, 1 - 1000 / H, 'Ecosystem Niche', ha='center',
         va='baseline', fontsize=28.5, color='black')

fig.savefig('out.png', dpi=DPI, facecolor='white')
